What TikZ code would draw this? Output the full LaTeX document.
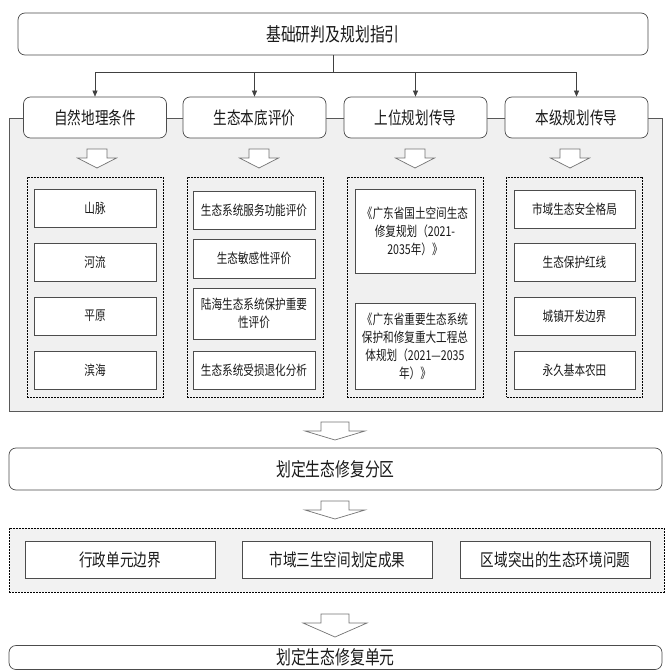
\documentclass[tikz,border=0pt]{standalone}
\usepackage{fontspec}
\setmainfont{Noto Sans CJK SC}[FakeStretch=0.78]
\usetikzlibrary{arrows.meta,calc}
\begin{document}
\begin{tikzpicture}[x=1pt,y=-1pt,
  box/.style={draw=black!70, line width=0.7pt, fill=white, align=center, inner sep=1pt, text=black!90},
  rbox/.style={box, rounded corners=7pt},
  dbox/.style={draw=black, line width=0.7pt, dash pattern=on 2pt off 1pt, inner sep=0pt},
  bigfont/.style={font=\fontsize{19}{21}\selectfont},
  midfont/.style={font=\fontsize{17.4}{20}\selectfont},
  smallfont/.style={font=\fontsize{13.6}{18}\selectfont},
  hbox/.style={rbox, midfont, minimum width=143pt, minimum height=41pt},
  ibox/.style={box, smallfont, minimum width=122pt},
  conn/.style={draw=black!75, line width=0.6pt},
  tip/.style={-{Triangle[length=6pt,width=5pt]}},
  harrow/.style={draw=black!55, fill=white, line width=0.7pt},
  smallarrow/.pic={\path[harrow] (-10,0) -- (10,0) -- (10,9) -- (19.5,9) -- (0,19) -- (-19.5,9) -- (-10,9) -- cycle;},
  bigarrow/.pic={\path[harrow] (-14,0) -- (14,0) -- (14,9) -- (30,9) -- (0,18) -- (-30,9) -- (-14,9) -- cycle;}
]
\useasboundingbox (0,0) rectangle (665,671);

% gray panel
\path[draw=black!65, fill=black!6, line width=0.7pt] (9,118) rectangle (662,411);

% top box
\node[rbox, bigfont, minimum width=630pt, minimum height=42pt] (top) at (333,34) {基础研判及规划指引};

% headers
\node[hbox] (h1) at (95,117.5) {自然地理条件};
\node[hbox] (h2) at (254.5,117.5) {生态本底评价};
\node[hbox] (h3) at (415.5,117.5) {上位规划传导};
\node[hbox] (h4) at (576.5,117.5) {本级规划传导};

\coordinate (j) at ($(top.south)+(0,17)$);
\draw[conn] (top.south) -- (j);
\foreach \h in {h1,h2,h3,h4}{\draw[conn,tip] (j) -| (\h.north);}

% small hollow arrows
\pic at (97,149) {smallarrow};
\pic at (259,149) {smallarrow};
\pic at (415,149) {smallarrow};
\pic at (570,149) {smallarrow};

% dashed column boxes
\node[dbox, minimum width=136pt, minimum height=220pt] (d1) at (95,287) {};
\node[dbox, minimum width=136pt, minimum height=220pt] (d2) at (255,287) {};
\node[dbox, minimum width=136pt, minimum height=220pt] (d3) at (415,287) {};
\node[dbox, minimum width=136pt, minimum height=220pt] (d4) at (574.5,287) {};

% column 1
\node[ibox, minimum height=38pt] (a1) at (95,208) {山脉};
\node[ibox, minimum height=38pt] (a2) at (95,262) {河流};
\node[ibox, minimum height=38pt] (a3) at (95,316) {平原};
\node[ibox, minimum height=38pt] (a4) at (95,370) {滨海};

% column 2
\node[ibox, minimum height=38pt] (b1) at (254,210) {生态系统服务功能评价};
\node[ibox, minimum height=39pt] (b2) at (254,258.5) {生态敏感性评价};
\node[ibox, minimum height=51pt] (b3) at (254,313.5) {陆海生态系统保护重要\\性评价};
\node[ibox, minimum height=38pt] (b4) at (254,370) {生态系统受损退化分析};

% column 3
\node[ibox, minimum width=120pt, minimum height=84pt] (c1) at (415,231) {《广东省国土空间生态\\修复规划（2021-\\2035年）》};
\node[ibox, minimum width=120pt, minimum height=86pt] (c2) at (415,346) {《广东省重要生态系统\\保护和修复重大工程总\\体规划（2021—2035\\年）》};

% column 4
\node[ibox, minimum width=121pt, minimum height=38pt] (e1) at (574.5,209) {市域生态安全格局};
\node[ibox, minimum width=121pt, minimum height=38pt] (e2) at (574.5,262) {生态保护红线};
\node[ibox, minimum width=121pt, minimum height=38pt] (e3) at (574.5,316) {城镇开发边界};
\node[ibox, minimum width=121pt, minimum height=38pt] (e4) at (574.5,370) {永久基本农田};

% arrow to zone
\pic at (335,422) {bigarrow};

\node[rbox, bigfont, minimum width=653pt, minimum height=42pt] (zone) at (335.5,469) {划定生态修复分区};

\pic at (335,501) {bigarrow};

% bottom dashed group
\node[dbox, fill=black!5, minimum width=655pt, minimum height=64pt] (grp) at (336.5,560) {};
\node[box, midfont, minimum width=190pt, minimum height=37pt] (g1) at (120,559.5) {行政单元边界};
\node[box, midfont, minimum width=190pt, minimum height=37pt] (g2) at (337.5,559.5) {市域三生空间划定成果};
\node[box, midfont, minimum width=190pt, minimum height=37pt] (g3) at (555.5,559.5) {区域突出的生态环境问题};

\path[harrow] (321,614) -- (349,614) -- (349,623) -- (367,623) -- (335,637) -- (303,623) -- (321,623) -- cycle;

\node[rbox, bigfont, minimum width=653pt, minimum height=24pt] (unit) at (335.5,657.5) {划定生态修复单元};

\end{tikzpicture}
\end{document}
